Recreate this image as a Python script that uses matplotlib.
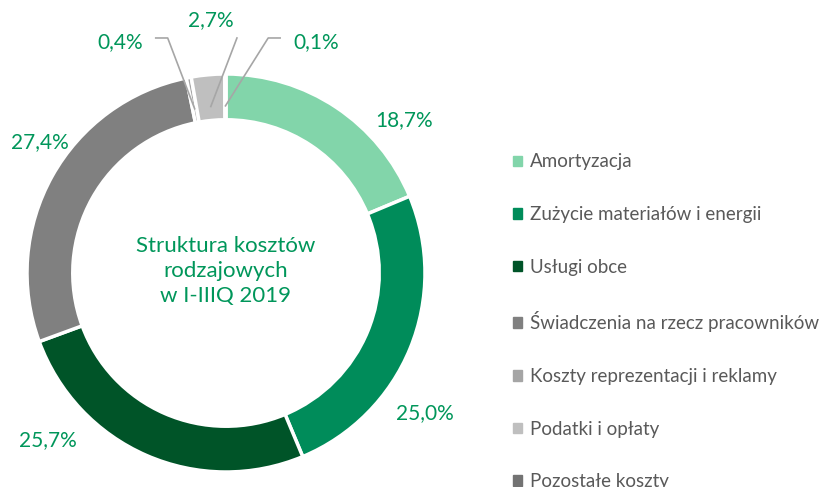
import matplotlib
matplotlib.use("Agg")
import matplotlib.pyplot as plt
import numpy as np

plt.rcParams['font.family'] = ['Lato', 'DejaVu Sans']

categories = ["Amortyzacja", "Zużycie materiałów i energii", "Usługi obce",
              "Świadczenia na rzecz pracowników", "Koszty reprezentacji i reklamy",
              "Podatki i opłaty", "Pozostałe koszty"]
shares = [18.7, 25.0, 25.7, 27.4, 0.4, 2.7, 0.1]
colors = ["#82d5aa", "#008c5a", "#005428", "#808080", "#a5a5a5", "#bfbfbf", "#737373"]

# label anchors (axes data units, ring radius = 1)
label_pos = [(0.894, 0.769), (1.0, -0.704), (-0.894, -0.839), (-0.935, 0.658),
             (-0.533, 1.161), (-0.075, 1.271), (0.452, 1.161)]

green = "#00965a"

fig = plt.figure(figsize=(8.33, 4.87), dpi=100)
W, H = 833, 487
cx, cy, R = 226, 273, 199
ax = fig.add_axes([(cx - R) / W, (H - cy - R) / H, 2 * R / W, 2 * R / H])

wedges, _ = ax.pie(shares, colors=colors, startangle=90, counterclock=False,
                   radius=1.0, wedgeprops=dict(width=0.23, edgecolor="white", linewidth=2.5))
ax.set_xlim(-1, 1)
ax.set_ylim(-1, 1)
ax.set_aspect("equal")
ax.axis("off")

for i, (w, val) in enumerate(zip(wedges, shares)):
    txt = f"{val:.1f}%".replace(".", ",")
    lx, ly = label_pos[i]
    ax.text(lx, ly, txt, ha="center", va="center", color=green, fontsize=15,
            clip_on=False)
    if val < 3:
        mid = np.deg2rad((w.theta1 + w.theta2) / 2)
        px, py = 0.84 * np.cos(mid), 0.84 * np.sin(mid)
        if i == 4:
            pts = [(lx + 0.18, ly + 0.02), (lx + 0.24, ly + 0.02), (px, py)]
        elif i == 6:
            pts = [(lx - 0.18, ly + 0.02), (lx - 0.24, ly + 0.02), (px, py)]
        else:
            pts = [(lx + 0.13, ly - 0.09), (px, py)]
        xs, ys = zip(*pts)
        ax.plot(xs, ys, color="#a6a6a6", lw=1.2, clip_on=False)

ax.text(0, 0.01, "Struktura kosztów\nrodzajowych\nw I-IIIQ 2019", ha="center", va="center",
        color=green, fontsize=16, linespacing=1.3)

handles = [plt.Rectangle((0, 0), 1, 1, color=c) for c in colors]
fig.legend(handles, categories, loc="upper left", bbox_to_anchor=(505 / W, 1 - 146 / H),
           frameon=False, fontsize=13.5, labelcolor="#595959", handlelength=0.5,
           handleheight=0.5, handletextpad=0.45, labelspacing=1.9, borderaxespad=0)

fig.savefig("out.png", dpi=100)
